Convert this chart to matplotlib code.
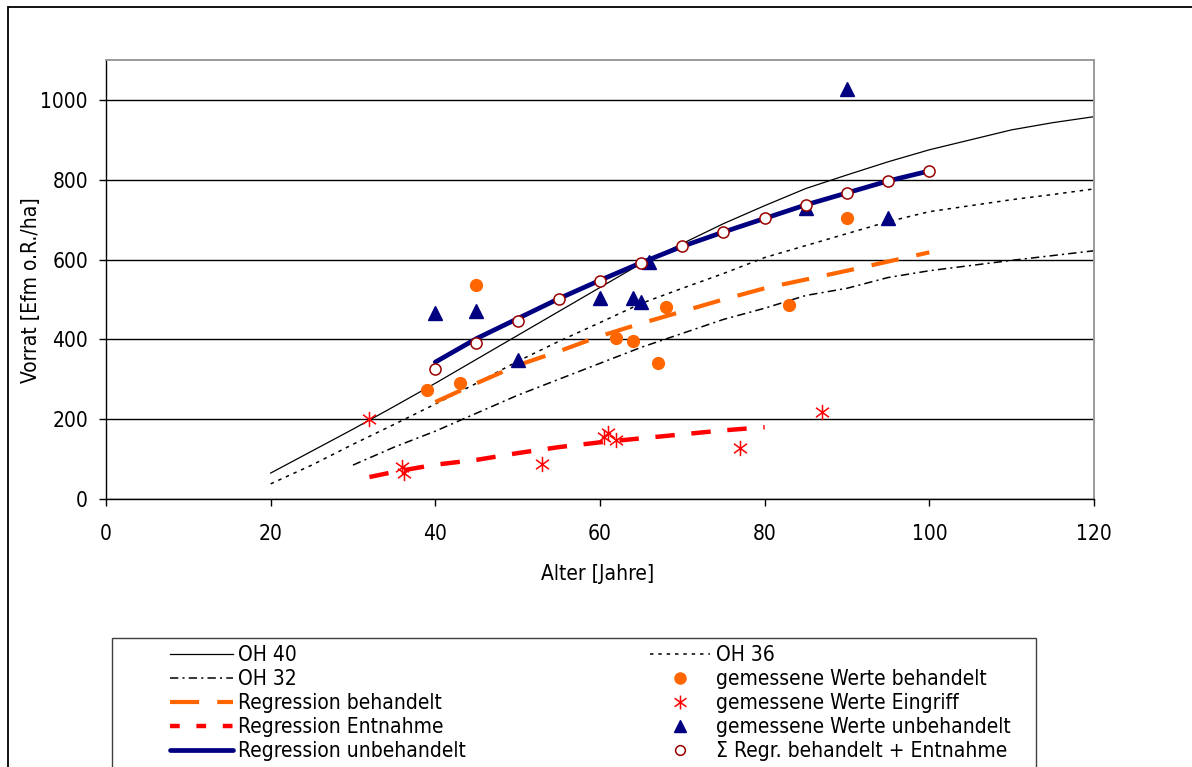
import os
import matplotlib
matplotlib.use("Agg")
import matplotlib.pyplot as plt
from matplotlib import font_manager as fm
from matplotlib.lines import Line2D
from matplotlib.patches import Rectangle
from matplotlib.path import Path

# ---- font: condensed DejaVu if available ----
font_name, font_stretch = "DejaVu Sans", "normal"
for f in fm.fontManager.ttflist:
    if os.path.basename(f.fname) == "DejaVuSansCondensed.ttf":
        font_name, font_stretch = f.name, f.stretch
        break
plt.rcParams["font.family"] = font_name
plt.rcParams["font.stretch"] = font_stretch
plt.rcParams["lines.scale_dashes"] = False

# ---- data ----
oh_age = [20, 25, 30, 35, 40, 45, 50, 55, 60, 65, 70, 75, 80, 85, 90, 95, 100, 105, 110, 115, 120]
oh40 = [65, 120, 175, 232, 290, 350, 410, 470, 530, 590, 640, 690, 735, 778, 812, 845, 875, 900, 925, 943, 958]
oh36 = [38, 85, 137, 187, 238, 290, 345, 395, 442, 490, 528, 565, 605, 635, 665, 695, 720, 735, 750, 763, 777]

oh32_age = [30, 35, 40, 45, 50, 55, 60, 65, 70, 75, 80, 85, 90, 95, 100, 105, 110, 115, 120]
oh32 = [85, 130, 170, 215, 260, 300, 340, 380, 415, 450, 478, 510, 528, 555, 572, 585, 598, 610, 622]

reg_age = [40, 45, 50, 55, 60, 65, 70, 75, 80, 85, 90, 95, 100]
reg_behandelt = [243, 290, 335, 370, 408, 440, 470, 500, 528, 550, 572, 595, 618]
reg_unbehandelt = [343, 402, 452, 502, 548, 592, 633, 669, 703, 737, 767, 797, 822]
sum_beh_entn = [325, 391, 447, 500, 546, 591, 633, 669, 703, 737, 767, 797, 823]

entn_age = [32, 35, 40, 45, 50, 55, 60, 65, 70, 75, 80]
reg_entnahme = [55, 68, 86, 98, 115, 130, 142, 152, 162, 172, 180]

beh_age = [39, 43, 45, 62, 64, 67, 68, 83, 90]
beh_vorrat = [272, 291, 537, 404, 397, 341, 481, 487, 703]

eingriff_age = [32, 36, 36.2, 53, 60.5, 61, 62, 77, 87]
eingriff_vorrat = [200, 80, 65, 87, 155, 165, 147, 127, 218]

unbeh_age = [40, 45, 50, 60, 64, 65, 66, 85, 90, 95]
unbeh_vorrat = [467, 470, 349, 504, 504, 493, 593, 728, 1028, 703]

x_ticks = [0, 20, 40, 60, 80, 100, 120]
y_ticks = [0, 200, 400, 600, 800, 1000]

# ---- styles ----
NAVY = "#000080"
ORANGE = "#FF6600"
RED = "#FF0000"
DARKRED = "#990000"
FS = 15

star = Path(
    [(0, -1), (0, 1), (-0.85, -0.62), (0.85, 0.62), (-0.85, 0.62), (0.85, -0.62)],
    [Path.MOVETO, Path.LINETO, Path.MOVETO, Path.LINETO, Path.MOVETO, Path.LINETO],
)

W, H = 1192, 767
fig = plt.figure(figsize=(W / 100, H / 100), dpi=100)
ax = fig.add_axes([106 / W, 1 - 499 / H, (1094 - 106) / W, (499 - 60) / H])

ax.set_xlim(0, 120)
ax.set_ylim(0, 1100)
ax.set_xticks(x_ticks)
ax.set_yticks(y_ticks)
ax.yaxis.grid(True, color="black", lw=1.0)
ax.set_axisbelow(True)

for s in ("top", "right"):
    ax.spines[s].set_color("#9a9a9a")
    ax.spines[s].set_linewidth(1.4)
for s in ("left", "bottom"):
    ax.spines[s].set_color("black")
    ax.spines[s].set_linewidth(1.0)

ax.tick_params(axis="both", direction="out", length=5, width=1.0, labelsize=FS, color="black")
ax.tick_params(axis="x", pad=13)
ax.tick_params(axis="y", pad=8)

ax.set_xlabel("Alter [Jahre]", fontsize=FS)
ax.set_ylabel("Vorrat [Efm o.R./ha]", fontsize=FS)
ax.xaxis.set_label_coords(0.498, -0.147)
ax.yaxis.set_label_coords(-0.066, 0.475)

# reference curves
ax.plot(oh_age, oh40, color="black", lw=0.9)
ax.plot(oh_age, oh36, color="black", lw=1.1, dashes=(2.5, 3.5))
ax.plot(oh32_age, oh32, color="black", lw=1.1, dashes=(6, 3, 1.5, 3))

# regressions
ax.plot(reg_age, reg_behandelt, color=ORANGE, lw=3.0, dashes=(20, 13))
ax.plot(entn_age, reg_entnahme, color=RED, lw=3.2, dashes=(14, 12))
ax.plot(reg_age, reg_unbehandelt, color=NAVY, lw=3.4, solid_capstyle="round")

# measured values
ax.plot(beh_age, beh_vorrat, ls="none", marker="o", ms=8.5, color=ORANGE, mec=ORANGE)
ax.plot(eingriff_age, eingriff_vorrat, ls="none", marker=star, ms=11, mew=1.1,
        mec=RED, mfc="none")
ax.plot(unbeh_age, unbeh_vorrat, ls="none", marker="^", ms=9.5, color=NAVY, mec=NAVY)
ax.plot(reg_age, sum_beh_entn, ls="none", marker="o", ms=8, mew=1.1, mec=DARKRED, mfc="white")

# ---- legend ----
h_left = [
    Line2D([], [], color="black", lw=0.9),
    Line2D([], [], color="black", lw=1.1, dashes=(6, 3, 1.5, 3)),
    Line2D([], [], color=ORANGE, lw=3.0, dashes=(21, 13)),
    Line2D([], [], color=RED, lw=3.2, dashes=(7, 12)),
    Line2D([], [], color=NAVY, lw=3.4, solid_capstyle="round"),
]
l_left = ["OH 40", "OH 32", "Regression behandelt", "Regression Entnahme", "Regression unbehandelt"]
h_right = [
    Line2D([], [], color="black", lw=1.1, dashes=(2.5, 3.5)),
    Line2D([], [], ls="none", marker="o", ms=8, color=ORANGE),
    Line2D([], [], ls="none", marker=star, ms=10, mew=1.1, mec=RED, mfc="none"),
    Line2D([], [], ls="none", marker="^", ms=9, color=NAVY),
    Line2D([], [], ls="none", marker="o", ms=7, mew=1.1, mec=DARKRED, mfc="white"),
]
l_right = ["OH 36", "gemessene Werte behandelt", "gemessene Werte Eingriff",
           "gemessene Werte unbehandelt", "\u03a3 Regr. behandelt + Entnahme"]

leg_kw = dict(loc="upper left", frameon=False, fontsize=FS, borderpad=0, borderaxespad=0,
              handletextpad=0.25, labelspacing=0.19, numpoints=1)
fig.legend(h_left, l_left, bbox_to_anchor=(170 / W, 1 - 645 / H), handlelength=3.0, **leg_kw)
fig.legend(h_right, l_right, bbox_to_anchor=(650 / W, 1 - 645 / H), handlelength=2.9, **leg_kw)

# frames
fig.patches.append(Rectangle((112 / W, -0.1), (1036 - 112) / W, 1 - 638 / H + 0.1,
                             transform=fig.transFigure, fill=False, ec="#404040", lw=1.0))
fig.patches.append(Rectangle((8 / W, -0.1), 1.2, 1 - 7 / H + 0.1,
                             transform=fig.transFigure, fill=False, ec="black", lw=1.3))

fig.savefig("out.png", dpi=100)
